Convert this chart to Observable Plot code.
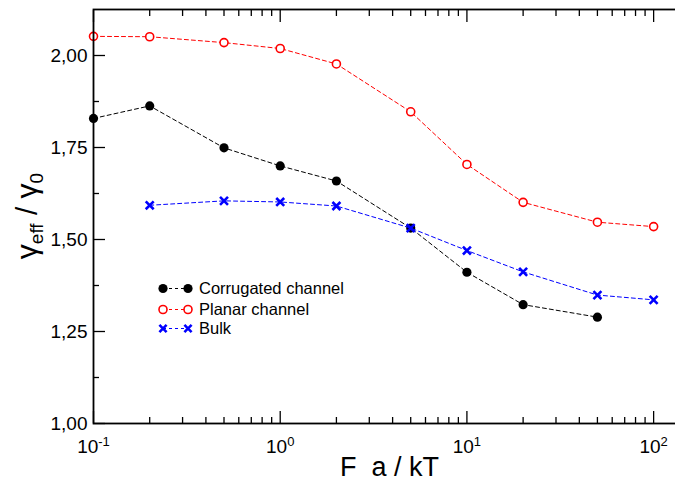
<!DOCTYPE html>
<html><head><meta charset="utf-8">
<script src="https://cdn.jsdelivr.net/npm/d3@7"></script>
<script src="https://cdn.jsdelivr.net/npm/@observablehq/plot@0.6"></script>
<style>
html,body{margin:0;padding:0;background:#fff;overflow:hidden;}
#chart{width:675px;height:481px;overflow:hidden;position:relative;}
#chart svg{max-width:none !important;}
</style></head><body><div id="chart"></div>
<script>
// ---- data ----
const seriesNames = ["Corrugated channel", "Planar channel", "Bulk"];
const xCorrugated = [0.1, 0.2, 0.5, 1, 2, 5, 10, 20, 50];
const yCorrugated = [1.829, 1.863, 1.749, 1.700, 1.659, 1.531, 1.411, 1.323, 1.289];
const xPlanar = [0.1, 0.2, 0.5, 1, 2, 5, 10, 20, 50, 100];
const yPlanar = [2.052, 2.051, 2.035, 2.019, 1.977, 1.847, 1.704, 1.601, 1.547, 1.535];
const xBulk = [0.2, 0.5, 1, 2, 5, 10, 20, 50, 100];
const yBulk = [1.593, 1.605, 1.602, 1.591, 1.531, 1.470, 1.412, 1.349, 1.336];

const xMajorTicks = [0.1, 1, 10, 100];
const xTickLabels = ["10^-1", "10^0", "10^1", "10^2"];
const xMinorTicks = [0.2, 0.3, 0.4, 0.5, 0.6, 0.7, 0.8, 0.9, 2, 3, 4, 5, 6, 7, 8, 9, 20, 30, 40, 50, 60, 70, 80, 90];
const yMajorTicks = [1.00, 1.25, 1.50, 1.75, 2.00];
const yTickLabels = ["1,00", "1,25", "1,50", "1,75", "2,00"];
const yMinorTicks = [1.125, 1.375, 1.625, 1.875];
const xTitle = "F\u00a0\u00a0a / kT";
const colors = ["#000000", "#ff0000", "#0000ff"];

const corr = xCorrugated.map((x, i) => ({x, y: yCorrugated[i]}));
const planar = xPlanar.map((x, i) => ({x, y: yPlanar[i]}));
const bulk = xBulk.map((x, i) => ({x, y: yBulk[i]}));

const font = "'Liberation Sans', Arial, Helvetica, sans-serif";
const dash = "4,3";

const svg = Plot.plot({
  width: 700, height: 481,
  marginLeft: 93, marginRight: 14, marginTop: 9, marginBottom: 58,
  style: {fontFamily: font, fontSize: "19px", background: "white", color: "black", overflow: "hidden", maxWidth: "none"},
  x: {type: "log", domain: [0.1, 150], label: null},
  y: {domain: [1, 2.125], label: null},
  marks: [
    Plot.line(corr, {x: "x", y: "y", stroke: colors[0], strokeWidth: 1, strokeDasharray: dash}),
    Plot.dot(corr, {x: "x", y: "y", r: 4.6, fill: colors[0], stroke: "none"}),
    Plot.line(planar, {x: "x", y: "y", stroke: colors[1], strokeWidth: 1, strokeDasharray: dash}),
    Plot.dot(planar, {x: "x", y: "y", r: 4, fill: "white", stroke: colors[1], strokeWidth: 1.6}),
    Plot.line(bulk, {x: "x", y: "y", stroke: colors[2], strokeWidth: 1, strokeDasharray: dash}),
    Plot.dot(bulk, {x: "x", y: "y", symbol: "times", r: 3.7, stroke: colors[2], strokeWidth: 2.6}),
    Plot.axisX(xMajorTicks, {anchor: "bottom", tickSize: -12, fill: "none", strokeWidth: 1.3, label: null}),
    Plot.axisX(xMinorTicks, {anchor: "bottom", tickSize: -6, fill: "none", strokeWidth: 1.3, label: null}),
    Plot.axisX(xMajorTicks, {anchor: "top", tickSize: -12, fill: "none", strokeWidth: 1.3, label: null}),
    Plot.axisX(xMinorTicks, {anchor: "top", tickSize: -6, fill: "none", strokeWidth: 1.3, label: null}),
    Plot.axisX(xMajorTicks, {anchor: "bottom", tickSize: 0, tickPadding: 16, label: null,
      tickFormat: d => xTickLabels[xMajorTicks.indexOf(d)]}),
    Plot.axisY(yMajorTicks, {anchor: "left", tickSize: -12, fill: "none", strokeWidth: 1.3, label: null}),
    Plot.axisY(yMinorTicks, {anchor: "left", tickSize: -6, fill: "none", strokeWidth: 1.3, label: null}),
    Plot.axisY(yMajorTicks, {anchor: "right", tickSize: -12, fill: "none", strokeWidth: 1.3, label: null}),
    Plot.axisY(yMinorTicks, {anchor: "right", tickSize: -6, fill: "none", strokeWidth: 1.3, label: null}),
    Plot.axisY(yMajorTicks, {anchor: "left", tickSize: 0, tickPadding: 6, label: null,
      tickFormat: d => yTickLabels[yMajorTicks.indexOf(d)]}),
    Plot.frame({stroke: "black", strokeWidth: 1.8})
  ]
});
svg.style.maxWidth = "none";

const s = d3.select(svg);
// superscript exponents on x tick labels
s.selectAll('g[aria-label="x-axis tick label"] text').each(function () {
  const t = d3.select(this);
  const m = t.text().match(/^(\d+)\^(.+)$/);
  if (!m) return;
  t.text(null);
  t.append("tspan").text(m[1]);
  t.append("tspan").attr("dy", "-7px").attr("font-size", "13px").text(m[2]);
});

// axis titles
s.append("text")
  .attr("x", 389.5).attr("y", 476)
  .attr("text-anchor", "middle").attr("font-size", 27).attr("font-family", font)
  .text(xTitle);

const yt = s.append("text")
  .attr("transform", "translate(37,216) rotate(-90)")
  .attr("text-anchor", "middle").attr("font-size", 30).attr("font-family", font);
yt.append("tspan").text("\u03b3");
yt.append("tspan").attr("dy", "6px").attr("font-size", "19px").text("eff");
yt.append("tspan").attr("dy", "-6px").text("\u00a0/\u00a0\u03b3");
yt.append("tspan").attr("dy", "6px").attr("font-size", "19px").text("0");

// legend
const legendRows = [288.5, 309.5, 328.5];
const lg = s.append("g").attr("font-family", font).attr("font-size", 16.5).attr("text-anchor", "start");
seriesNames.forEach((name, i) => {
  const y = legendRows[i];
  const g = lg.append("g");
  g.append("line").attr("x1", 163).attr("x2", 188).attr("y1", y).attr("y2", y)
    .attr("stroke", colors[i]).attr("stroke-width", 1).attr("stroke-dasharray", "3,3");
  [163, 188].forEach(cx => {
    if (i === 0) g.append("circle").attr("cx", cx).attr("cy", y).attr("r", 4.6).attr("fill", colors[0]);
    else if (i === 1) g.append("circle").attr("cx", cx).attr("cy", y).attr("r", 4).attr("fill", "white")
      .attr("stroke", colors[1]).attr("stroke-width", 1.6);
    else g.append("path").attr("d", `M${cx-3.6},${y-3.6}L${cx+3.6},${y+3.6}M${cx-3.6},${y+3.6}L${cx+3.6},${y-3.6}`)
      .attr("stroke", colors[2]).attr("stroke-width", 2.6);
  });
  g.append("text").attr("x", 199).attr("y", y).attr("dy", "0.36em").attr("fill", "black").text(name);
});

document.getElementById("chart").appendChild(svg);
</script>
</body></html>
